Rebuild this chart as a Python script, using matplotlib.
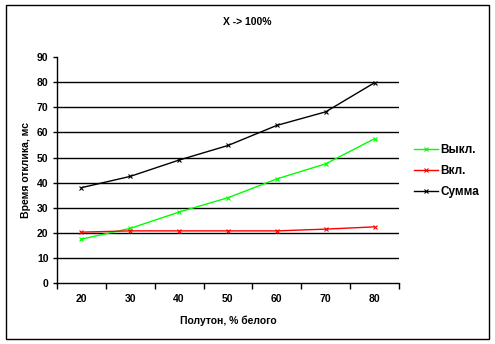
import numpy as np
import matplotlib.pyplot as plt
from matplotlib.patches import Rectangle

plt.rcParams['font.family'] = ['Liberation Sans', 'DejaVu Sans']
plt.rcParams['font.weight'] = 'bold'

# halftone levels, % white
categories = ['20', '30', '40', '50', '60', '70', '80']
# response times, ms
off_ms = [17.5, 21.8, 28.3, 34.0, 41.5, 47.5, 57.5]
on_ms = [20.3, 20.8, 20.8, 20.8, 20.8, 21.5, 22.4]
total_ms = [38.0, 42.5, 49.0, 54.8, 62.8, 68.2, 79.8]

fig = plt.figure(figsize=(4.95, 3.44), dpi=100)
ax = fig.add_axes([0.115, 0.177, 0.691, 0.657])

idx = np.arange(len(categories))
ax.plot(idx, off_ms, color='#00ff00', lw=1, marker='x', ms=3.5, mew=0.8, label='Выкл.')
ax.plot(idx, on_ms, color='#ff0000', lw=1, marker='x', ms=3.5, mew=0.8, label='Вкл.')
ax.plot(idx, total_ms, color='black', lw=1, marker='x', ms=3.5, mew=0.8, label='Сумма')

ax.set_xlim(-0.5, len(categories) - 0.5)
ax.set_ylim(0, 90)
ax.set_yticks(range(0, 100, 10))
for y in range(10, 90, 10):
    ax.axhline(y, color='black', lw=1, zorder=0)

# category labels in the middle, tick marks on the boundaries
ax.set_xticks(idx)
ax.set_xticklabels(categories)
ax.set_xticks(np.arange(-0.5, len(categories)), minor=True)
ax.tick_params(axis='x', which='major', length=0, pad=8, labelsize=7.5)
ax.tick_params(axis='x', which='minor', length=4, width=1, direction='out')
ax.tick_params(axis='y', length=3, width=1, labelsize=7.5, pad=3)

for s in ['top', 'right']:
    ax.spines[s].set_visible(False)
for s in ['left', 'bottom']:
    ax.spines[s].set_linewidth(1)

ax.set_xlabel('Полутон, % белого', fontsize=7.5, fontweight='bold', labelpad=8)
ax.set_ylabel('Время отклика, мс', fontsize=7.5, fontweight='bold', labelpad=4)
fig.text(0.5, 0.928, 'X -> 100%', ha='center', fontsize=7.5, fontweight='bold')

fig.legend(loc='center left', bbox_to_anchor=(0.82, 0.503), frameon=False,
           prop={'size': 8.5, 'weight': 'bold'}, handlelength=2.0,
           handletextpad=0.25, labelspacing=0.75, borderpad=0.2)

fig.patches.append(Rectangle((0.012, 0.014), 0.976, 0.972, transform=fig.transFigure,
                             fill=False, edgecolor='black', lw=1))

fig.savefig('out.png', dpi=100)
